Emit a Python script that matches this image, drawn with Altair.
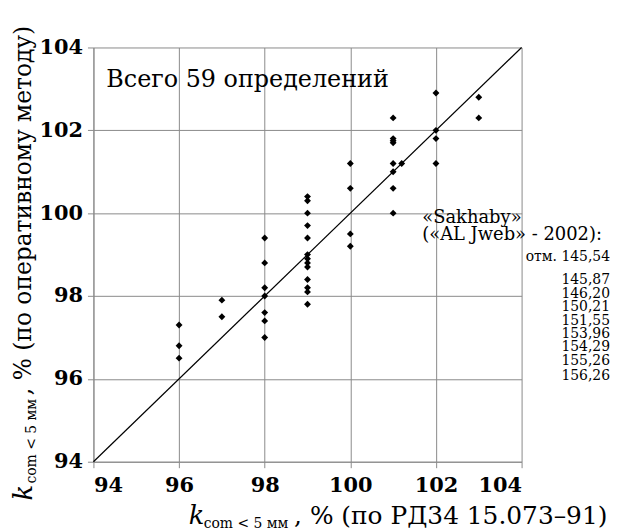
import altair as alt
import pandas as pd

# Data
x_rd = [96, 96, 96,
        97, 97,
        98, 98, 98, 98, 98, 98, 98,
        99, 99, 99, 99, 99, 99, 99, 99, 99, 99, 99, 99, 99,
        100, 100, 100, 100,
        101, 101, 101, 101, 101, 101, 101, 101,
        101.2,
        102, 102, 102, 102,
        103, 103]
y_op = [97.3, 96.8, 96.5,
        97.9, 97.5,
        99.4, 98.8, 98.2, 98.0, 97.6, 97.4, 97.0,
        100.4, 100.3, 100.0, 99.7, 99.4, 99.0, 98.9, 98.8, 98.7, 98.4, 98.2, 98.1, 97.8,
        101.2, 100.6, 99.5, 99.2,
        102.3, 101.8, 101.75, 101.7, 101.2, 101.0, 100.6, 100.0,
        101.2,
        102.9, 102.0, 101.8, 101.2,
        102.8, 102.3]
diag_x = [94, 104]
diag_y = [94, 104]
tick_vals = [94, 96, 98, 100, 102, 104]
note_head = ["«Sakhaby»", "(«AL Jweb» - 2002):"]
note_marks = ["отм. 145,54", "145,87", "146,20", "150,21", "151,55",
              "153,96", "154,29", "155,26", "156,26"]
count_label = "Всего 59 определений"

FONT = "DejaVu Serif, Liberation Serif, serif"
GRID = "#8a8a8a"

df = pd.DataFrame({"x": x_rd, "y": y_op})
diag = pd.DataFrame({"x": diag_x, "y": diag_y})

xs = alt.Scale(domain=[94, 104], nice=False, zero=False)
ys = alt.Scale(domain=[94, 104], nice=False, zero=False)

ax = alt.Axis(values=tick_vals, grid=True, gridColor=GRID, gridWidth=1,
              domainColor=GRID, tickColor=GRID, tickSize=6,
              labelFont=FONT, labelFontSize=21, labelFontWeight="bold",
              labelColor="black", labelPadding=7, title=None)
ay = alt.Axis(values=tick_vals, grid=True, gridColor=GRID, gridWidth=1,
              domainColor=GRID, tickColor=GRID, tickSize=6,
              labelFont=FONT, labelFontSize=21, labelFontWeight="bold",
              labelColor="black", labelPadding=5, title=None)

pts = alt.Chart(df).mark_point(shape="diamond", filled=True, color="black",
                               size=48, opacity=1).encode(
    x=alt.X("x:Q", scale=xs, axis=ax),
    y=alt.Y("y:Q", scale=ys, axis=ay),
)
line = alt.Chart(diag).mark_line(color="black", strokeWidth=1.2).encode(
    x=alt.X("x:Q", scale=xs), y=alt.Y("y:Q", scale=ys))


def txt(s, x, y, size, angle=0, align="left", baseline="alphabetic", style="normal"):
    return alt.Chart(alt.Data(values=[{}])).mark_text(
        text=s, font=FONT, fontSize=size, angle=angle, align=align,
        baseline=baseline, fontStyle=style, color="black"
    ).encode(x=alt.value(x), y=alt.value(y))


layers = [line, pts]
# y-axis title
layers.append(txt("k", -62, 456, 26, angle=270, style="italic"))
layers.append(txt("com < 5 мм", -58, 439, 14, angle=270))
layers.append(txt(", % (по оперативному методу)", -63, 350, 23.5, angle=270))
# x-axis title
layers.append(txt("k", 96, 480, 26, style="italic"))
layers.append(txt("com < 5 мм", 111, 484, 14))
layers.append(txt(", % (по РД34 15.073–91)", 202, 480, 25))
# count label
layers.append(txt(count_label, 13, 33, 24, baseline="middle"))
# side note
head_y = [172, 189]
for s, yy in zip(note_head, head_y):
    layers.append(txt(s, 331, yy, 18, baseline="middle"))
mark_y = [211, 234, 248, 261, 275, 288, 302, 316, 331]
for s, yy in zip(note_marks, mark_y):
    layers.append(txt(s, 520, yy, 14, align="right", baseline="middle"))

chart = alt.layer(*layers).properties(
    width=431, height=417,
    autosize=alt.AutoSizeParams(type="none"),
    padding={"left": 86, "top": 38, "right": 89, "bottom": 68},
).configure_view(stroke=None)

chart.save("out.html", embed_options={"renderer": "svg", "actions": False})
